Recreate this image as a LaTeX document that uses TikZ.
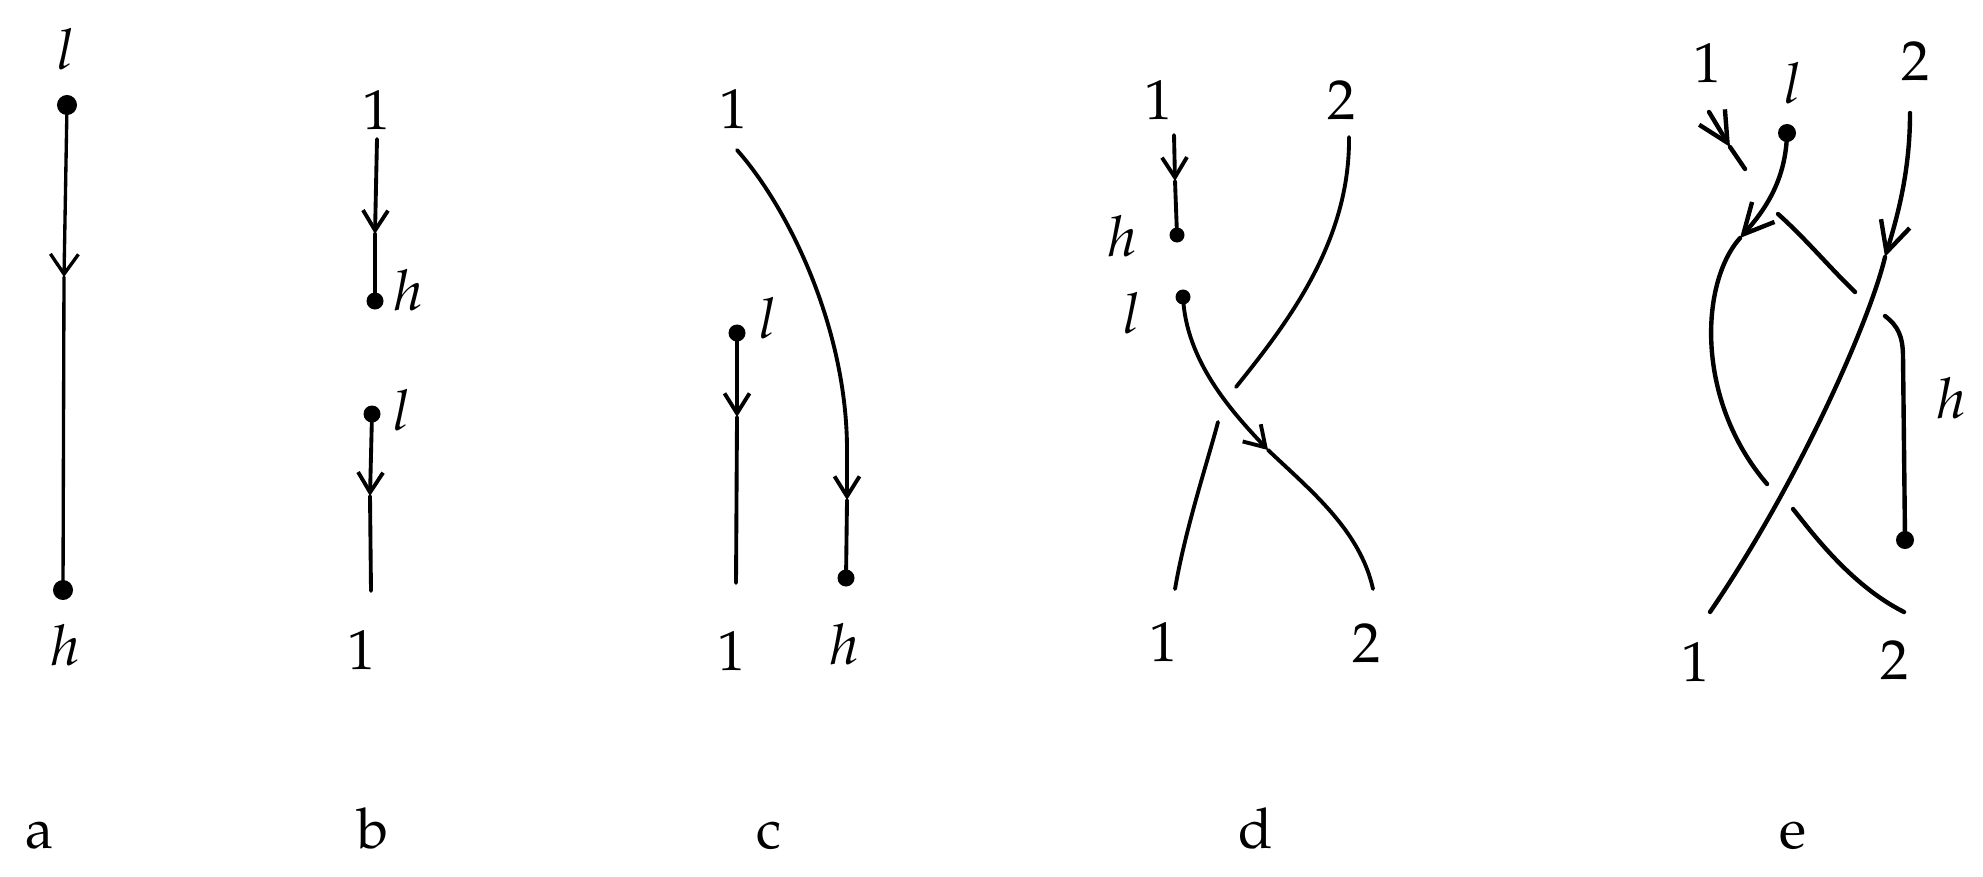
\documentclass[tikz,border=0pt]{standalone}
\usepackage[T1]{fontenc}
\usepackage{mathpazo}
\usetikzlibrary{arrows.meta}
\begin{document}
\begin{tikzpicture}[x=0.01cm,y=-0.01cm,
  strand/.style={line width=1.1pt,line cap=round},
  thinstrand/.style={line width=0.95pt,line cap=round},
  thickstrand/.style={line width=1.25pt,line cap=round},
  tipS/.style={-{Straight Barb[length=2mm,width=2.5mm]}},
  tipA/.style={-{Straight Barb[length=2mm,width=2.8mm]}},
  tipL/.style={-{Straight Barb[length=3mm,width=3mm]}},
  kdot/.style={circle,fill=black,inner sep=0pt,minimum size=#1},
  lab/.style={inner sep=0pt,font=\fontsize{16}{19}\selectfont},
  paneltitle/.style={inner sep=0pt,anchor=base,font=\fontsize{16}{19}\selectfont}]
\useasboundingbox (0,0) rectangle (1983,876);

% ---------- panel a
\node[lab] (a-l) at (66,49) {$l$};
\node[kdot=2mm] (a-top) at (67,105) {};
\coordinate (a-arr) at (64,277);
\node[kdot=2mm] (a-bot) at (63,590) {};
\node[lab] (a-h) at (65,645) {$h$};
\draw[thinstrand,tipA] (a-top.center) -- (a-arr);
\draw[thinstrand] (a-arr) -- (a-bot.center);
\node[paneltitle] (a-cap) at (40,848) {a};

% ---------- panel b
\node[lab] (b-1t) at (377,110) {$1$};
\coordinate (b-s1) at (377,139);
\coordinate (b-arr1) at (375,234);
\node[kdot=1.7mm] (b-hdot) at (375,301) {};
\node[lab] (b-h) at (408,290) {$h$};
\draw[strand,tipS] (b-s1) -- (b-arr1);
\draw[strand] (b-arr1) -- (b-hdot.center);
\node[kdot=1.7mm] (b-ldot) at (372,414) {};
\node[lab] (b-l) at (402,410) {$l$};
\coordinate (b-arr2) at (370,496);
\coordinate (b-e2) at (371,591);
\draw[strand,tipS] (b-ldot.center) -- (b-arr2);
\draw[strand] (b-arr2) -- (b-e2);
\node[lab] (b-1b) at (362,650) {$1$};
\node[paneltitle] (b-cap) at (373,848) {b};

% ---------- panel c
\node[lab] (c-1t) at (734,109) {$1$};
\coordinate (c-s) at (737,150);
\coordinate (c-v) at (847,450);
\coordinate (c-arr) at (847,500);
\node[kdot=1.7mm] (c-hdot) at (846,578) {};
\draw[strand] (c-s) .. controls (790,210) and (847,330) .. (c-v);
\draw[strand,tipS] (c-v) -- (c-arr);
\draw[strand] (c-arr) -- (c-hdot.center);
\node[kdot=1.7mm] (c-ldot) at (737,333) {};
\node[lab] (c-l) at (768,318) {$l$};
\coordinate (c-arr2) at (737,417);
\coordinate (c-e) at (736,583);
\draw[strand,tipS] (c-ldot.center) -- (c-arr2);
\draw[strand] (c-arr2) -- (c-e);
\node[lab] (c-1b) at (732,651) {$1$};
\node[lab] (c-hb) at (844,644) {$h$};
\node[paneltitle] (c-cap) at (769,848) {c};

% ---------- panel d
\node[lab] (d-1t) at (1159,100) {$1$};
\node[lab] (d-2t) at (1342,100) {$2$};
\coordinate (d-s1) at (1174,135);
\coordinate (d-arr1) at (1175,181);
\node[kdot=1.5mm] (d-hdot) at (1177,235) {};
\node[lab] (d-h) at (1122,236) {$h$};
\draw[strand,tipS] (d-s1) -- (d-arr1);
\draw[strand] (d-arr1) -- (d-hdot.center);
\node[kdot=1.5mm] (d-ldot) at (1183,297) {};
\node[lab] (d-l) at (1132,313) {$l$};
\coordinate (d-arr2) at (1268,450);
\coordinate (d-e2) at (1373,589);
\draw[strand,tipS] (d-ldot.center) .. controls (1186,360) and (1230,410) .. (d-arr2);
\draw[strand] (d-arr2) .. controls (1310,490) and (1360,530) .. (d-e2);
\coordinate (d-u1) at (1349,137);
\coordinate (d-u2) at (1236,387);
\coordinate (d-u3) at (1218,422);
\coordinate (d-u4) at (1175,589);
\draw[strand] (d-u1) .. controls (1350,240) and (1290,320) .. (d-u2);
\draw[strand] (d-u3) .. controls (1208,460) and (1185,530) .. (d-u4);
\node[lab] (d-1b) at (1164,642) {$1$};
\node[lab] (d-2b) at (1367,643) {$2$};
\node[paneltitle] (d-cap) at (1256,848) {d};

% ---------- panel e
\node[lab] (e-1t) at (1708,63) {$1$};
\node[lab] (e-l) at (1793,83) {$l$};
\node[lab] (e-2t) at (1916,61) {$2$};
\node[kdot=1.8mm] (e-ldot) at (1787,133) {};
\node[kdot=1.8mm] (e-hdot) at (1905,540) {};
\node[lab] (e-h) at (1951,398) {$h$};
% strand from top 1 to h
\coordinate (e-a1) at (1709,112);
\coordinate (e-a2) at (1730,147);
\coordinate (e-a3) at (1745,169);
\draw[thickstrand,tipL] (e-a1) -- (e-a2);
\draw[thickstrand] (e-a2) -- (e-a3);
\coordinate (e-b1) at (1778,214);
\coordinate (e-b2) at (1855,292);
\draw[thickstrand] (e-b1) .. controls (1805,238) and (1830,268) .. (e-b2);
\coordinate (e-c1) at (1885,316);
\coordinate (e-c2) at (1903,358);
\draw[thickstrand] (e-c1) .. controls (1898,326) and (1903,336) .. (e-c2) -- (e-hdot.center);
% strand from l
\coordinate (e-larr) at (1740,238);
\coordinate (e-l2) at (1767,484);
\coordinate (e-l3) at (1793,509);
\coordinate (e-l4) at (1904,612);
\draw[thickstrand,tipL] (e-ldot.center) .. controls (1786,180) and (1765,210) .. (e-larr);
\draw[thickstrand] (e-larr) .. controls (1700,283) and (1695,400) .. (e-l2);
\draw[thickstrand] (e-l3) .. controls (1810,530) and (1850,585) .. (e-l4);
% strand from top 2 to bottom 1
\coordinate (e-s1) at (1910,113);
\coordinate (e-sarr) at (1885,257);
\coordinate (e-s2) at (1710,612);
\draw[thickstrand,tipL] (e-s1) .. controls (1910,170) and (1898,215) .. (e-sarr);
\draw[thickstrand] (e-sarr) .. controls (1870,320) and (1800,480) .. (e-s2);
\node[lab] (e-1b) at (1696,662) {$1$};
\node[lab] (e-2b) at (1895,660) {$2$};
\node[paneltitle] (e-cap) at (1793,848) {e};
\end{tikzpicture}
\end{document}
